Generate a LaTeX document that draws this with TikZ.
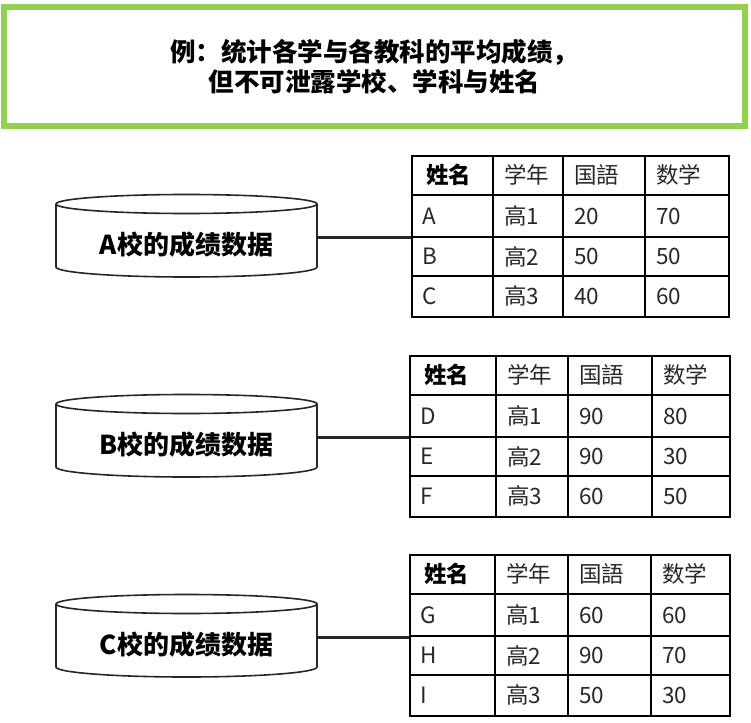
\documentclass[tikz,border=0pt]{standalone}
\usepackage{fontspec}
\setmainfont{Noto Sans CJK SC}
\definecolor{titlegreen}{RGB}{146,208,80}
\definecolor{celltext}{RGB}{40,40,40}
\tikzset{
  titlebox/.style={draw=titlegreen, line width=6pt, inner sep=0pt, align=center,
    font=\fontsize{25.5}{29.5}\selectfont\bfseries},
  cylline/.style={line width=1.6pt, draw=black!85},
  cylbody/.style={inner sep=0pt, minimum width=261pt, minimum height=63pt},
  cyllabel/.style={inner sep=0pt, font=\fontsize{26}{30}\selectfont\bfseries},
  conn/.style={line width=3pt, draw=black!85},
  tabframe/.style={draw, line width=1.8pt, inner sep=0pt, anchor=north west},
  gridline/.style={line width=1.8pt},
  hdrfirst/.style={anchor=west, inner sep=0pt, font=\fontsize{22.5}{24}\selectfont\bfseries},
  hdr/.style={anchor=west, inner sep=0pt, text=celltext, font=\fontsize{22.5}{24}\selectfont},
  cell/.style={anchor=west, inner sep=0pt, text=celltext, font=\fontsize{22.5}{24}\selectfont}
}
% #1 prefix, #2 top, #3..#7 column x, #8 rows
\newcommand\mydatatable[8]{%
  \node[tabframe, minimum width={(#7-#3)*1pt}, minimum height=161pt] (#1) at (#3,#2) {};
  \foreach \dy in {40,82,121} \draw[gridline] (#3,#2+\dy) -- (#7,#2+\dy);
  \foreach \xx in {#4,#5,#6} \draw[gridline] (\xx,#2) -- (\xx,#2+161);
  \node[hdrfirst] (#1-h1) at (#3+15,#2+20) {姓名};
  \node[hdr] (#1-h2) at (#4+11,#2+20) {学年};
  \node[hdr] (#1-h3) at (#5+11,#2+20) {国語};
  \node[hdr] (#1-h4) at (#6+11,#2+20) {数学};
  \foreach \a/\b/\c/\d/\yc [count=\r] in {#8} {
    \node[cell] (#1-r\r-c1) at (#3+11,#2+\yc) {\a};
    \node[cell] (#1-r\r-c2) at (#4+11,#2+\yc) {\b};
    \node[cell] (#1-r\r-c3) at (#5+11,#2+\yc) {\c};
    \node[cell] (#1-r\r-c4) at (#6+11,#2+\yc) {\d};
  }
}
% #1 name, #2 center y of body, #3 label
\newcommand\mycylinder[3]{%
  \draw[cylline] (186.5,#2-33) ellipse [x radius=130.5pt, y radius=9.5pt];
  \draw[cylline] (56,#2-33) -- (56,#2+30)
     arc[start angle=180, end angle=360, x radius=130.5pt, y radius=10pt]
     -- (317,#2-33);
  \node[cylbody] (#1) at (186.5,#2) {};
  \node[cyllabel] (#1-label) at (186.5,#2+8) {#3};
}
\begin{document}
\begin{tikzpicture}[x=1pt, y=-1pt]
  \useasboundingbox (0,0) rectangle (751,722);
  \node[titlebox, minimum width=741.5pt, minimum height=119pt] (title) at (374.25,66.5)
    {例：统计各学与各教科的平均成绩，\\但不可泄露学校、学科与姓名};

  \mycylinder{cylA}{237}{A校的成绩数据}
  \mycylinder{cylB}{437}{B校的成绩数据}
  \mycylinder{cylC}{637}{C校的成绩数据}

  \mydatatable{tabA}{155}{411}{493}{563}{645}{728}
    {A/高1/20/70/61, B/高2/50/50/101.5, C/高3/40/60/141}
  \mydatatable{tabB}{355}{409}{496}{568}{652}{729}
    {D/高1/90/80/61, E/高2/90/30/101.5, F/高3/60/50/141}
  \mydatatable{tabC}{554}{409}{495}{568}{651}{729}
    {G/高1/60/60/61, H/高2/90/70/101.5, I/高3/50/30/141}

  \draw[conn] (cylA.east) -- (cylA.east -| tabA.west);
  \draw[conn] (cylB.east) -- (cylB.east -| tabB.west);
  \draw[conn] (cylC.east) -- (cylC.east -| tabC.west);
\end{tikzpicture}
\end{document}
